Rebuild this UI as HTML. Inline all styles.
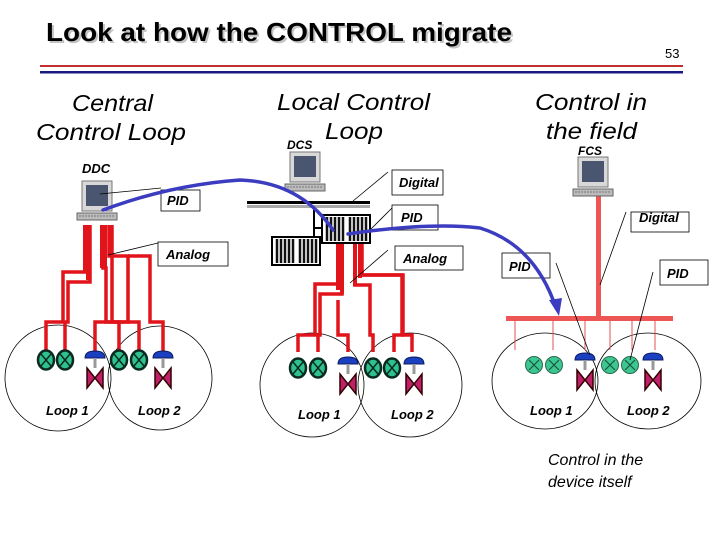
<!DOCTYPE html>
<html><head><meta charset="utf-8"><style>
body{margin:0;background:#fff;}
svg{display:block;}
text{font-family:"Liberation Sans",sans-serif;}
.lb{font-style:italic;font-weight:bold;font-size:13px;}
.hd{font-style:italic;font-size:23px;}
</style></head><body>
<svg width="720" height="540" viewBox="0 0 720 540" xmlns="http://www.w3.org/2000/svg">
<defs>
<g id="s"><ellipse cx="0" cy="0" rx="8" ry="9.5" fill="#2ec08e" stroke="#0a2a20" stroke-width="2.5"/><path d="M-5,-6L5,6M5,-6L-5,6" stroke="#0a2a20" stroke-width="1.5"/></g>
<g id="sf"><circle cx="0" cy="0" r="8.5" fill="#3cc690" stroke="#2a6a50" stroke-width="1"/><path d="M-5,-5L5,5M5,-5L-5,5" stroke="#1a4a3a" stroke-width="1"/></g>
<g id="v"><path d="M-10,-2 Q-10,-9 0,-9 Q10,-9 10,-2 Z" fill="#1a3fc0" stroke="#0a1a60" stroke-width="1"/><rect x="-1.5" y="-2" width="3" height="10" fill="#999"/><path d="M-8,8 L8,28 L8,8 L-8,28 Z" fill="#c0206a" stroke="#300" stroke-width="1.5"/></g>
<g id="pc"><rect x="0" y="0" width="30" height="30" fill="#d8d8d8" stroke="#777"/><rect x="4" y="4" width="22" height="21" fill="#4a5570"/><rect x="-5" y="32" width="40" height="7" fill="#bbb" stroke="#666"/><path d="M-3,35h36" stroke="#777" stroke-dasharray="2 1"/></g>
<g id="rack"><rect x="0" y="0" width="48" height="28" fill="#fff" stroke="#000" stroke-width="2"/><path d="M5,2v24M9,2v24M13,2v24M17,2v24M21,2v24M28,2v24M32,2v24M36,2v24M40,2v24M44,2v24" stroke="#111" stroke-width="2.5"/></g>
</defs>

<text x="48" y="43" font-size="26" font-weight="bold" fill="#888" opacity="0.5" textLength="466" lengthAdjust="spacingAndGlyphs">Look at how the CONTROL migrate</text>
<text x="46" y="41" font-size="26" font-weight="bold" fill="#000" textLength="466" lengthAdjust="spacingAndGlyphs">Look at how the CONTROL migrate</text>
<text x="665" y="58" font-size="13" fill="#000">53</text>
<rect x="40" y="65" width="643" height="2" fill="#c03030"/>
<rect x="40" y="71" width="643" height="2.5" fill="#1a1a80"/>

<text class="hd" x="72" y="111" textLength="81" lengthAdjust="spacingAndGlyphs">Central</text>
<text class="hd" x="36" y="140" textLength="150" lengthAdjust="spacingAndGlyphs">Control Loop</text>
<text class="hd" x="277" y="110" textLength="153" lengthAdjust="spacingAndGlyphs">Local Control</text>
<text class="hd" x="325" y="139" textLength="58" lengthAdjust="spacingAndGlyphs">Loop</text>
<text x="287" y="149" font-size="12" font-style="italic" font-weight="bold">DCS</text>
<text class="hd" x="535" y="110" textLength="112" lengthAdjust="spacingAndGlyphs">Control in</text>
<text class="hd" x="546" y="139" textLength="91" lengthAdjust="spacingAndGlyphs">the field</text>
<text x="578" y="155" font-size="12" font-style="italic" font-weight="bold">FCS</text>
<text x="82" y="173" font-size="13" font-style="italic" font-weight="bold">DDC</text>

<g fill="none" stroke="#000" stroke-width="0.8">
<circle cx="58" cy="378" r="53"/><circle cx="160" cy="378" r="52"/>
<circle cx="312" cy="385" r="52"/><circle cx="410" cy="385" r="52"/>
<ellipse cx="545" cy="381" rx="53" ry="48"/><ellipse cx="648" cy="381" rx="53" ry="48"/>
</g>

<g fill="none" stroke="#e0141a" stroke-width="3.5">
<path d="M86,225V272H63V322H46V352"/>
<path d="M90,225V282H68V322H65V352"/>
<path d="M103,225V268H106V322H119V352"/>
<path d="M109,225V256H112V322H139V352"/>
<path d="M112,225V256H128V322H95V352"/>
<path d="M128,256H150V322H163V352"/>
</g>
<g fill="none" stroke="#e0141a" stroke-width="4">
<path d="M85,225V273"/><path d="M88,225V280"/><path d="M102,225V268"/><path d="M105,225V268"/>
</g>
<g fill="none" stroke="#e0141a" stroke-width="3.5">
<path d="M338,243V284H315V335H298V352"/>
<path d="M342,243V294H320V335H318V352"/>
<path d="M355,243V285H370V335H373V352"/>
<path d="M362,243V275H402V335H394V352"/>
<path d="M362,275H403V335H412V352"/>
<path d="M338,300V335H348V352"/>
</g>
<g fill="none" stroke="#e0141a" stroke-width="4"><path d="M338,243V290"/><path d="M342,243V294"/><path d="M355,243V286"/><path d="M360,243V278"/></g>

<rect x="506" y="316" width="167" height="5" fill="#ee5555"/>
<rect x="596" y="190" width="5" height="128" fill="#ee5555"/>
<g stroke="#e05050" stroke-width="1"><path d="M515,320V350M553,320V350M585,320V350M610,320V350M632,320V350M655,320V350"/></g>

<use href="#s" x="46" y="360"/><use href="#s" x="65" y="360"/><use href="#v" x="95" y="360"/>
<use href="#s" x="119" y="360"/><use href="#s" x="139" y="360"/><use href="#v" x="163" y="360"/>
<use href="#s" x="298" y="368"/><use href="#s" x="318" y="368"/><use href="#v" x="348" y="366"/>
<use href="#s" x="373" y="368"/><use href="#s" x="392" y="368"/><use href="#v" x="414" y="366"/>
<use href="#sf" x="534" y="365"/><use href="#sf" x="554" y="365"/><use href="#v" x="585" y="362"/>
<use href="#sf" x="610" y="365"/><use href="#sf" x="630" y="365"/><use href="#v" x="653" y="362"/>

<use href="#pc" x="82" y="181"/>
<use href="#pc" x="290" y="152"/>
<use href="#pc" x="578" y="157"/>

<rect x="247" y="201" width="123" height="3" fill="#000"/>
<rect x="247" y="205" width="123" height="3" fill="#aaa"/>
<path d="M314,208V228H322M314,218V240" stroke="#000" stroke-width="2" fill="none"/>
<use href="#rack" x="322" y="215"/>
<use href="#rack" x="272" y="237"/>

<g fill="#fff" stroke="#000" stroke-width="0.8">
<rect x="161" y="190" width="39" height="21"/>
<rect x="158" y="242" width="70" height="24"/>
<rect x="392" y="170" width="51" height="25"/>
<rect x="392" y="205" width="46" height="25"/>
<rect x="395" y="246" width="68" height="24"/>
<rect x="631" y="212" width="58" height="20"/>
<rect x="502" y="253" width="48" height="25"/>
<rect x="660" y="260" width="48" height="25"/>
</g>
<g stroke="#000" stroke-width="0.8" fill="none">
<path d="M100,194L161,188"/>
<path d="M108,255L158,243"/>
<path d="M353,201L388,172"/>
<path d="M370,230L392,208"/>
<path d="M350,283L388,250"/>
<path d="M600,285L626,212"/>
<path d="M556,263L590,355"/>
<path d="M653,272L630,360"/>
</g>
<text class="lb" x="167" y="205">PID</text>
<text class="lb" x="166" y="259">Analog</text>
<text class="lb" x="399" y="187">Digital</text>
<text class="lb" x="401" y="222">PID</text>
<text class="lb" x="403" y="263">Analog</text>
<text class="lb" x="639" y="222">Digital</text>
<text class="lb" x="509" y="271">PID</text>
<text class="lb" x="667" y="278">PID</text>

<g fill="none" stroke="#3c3cc0" stroke-width="3.5" stroke-linecap="round">
<path d="M103,210 Q170,185 240,180 Q300,182 333,230"/>
<path d="M348,234 Q430,222 480,228 Q535,245 556,308"/>
</g>
<path d="M549,300 L559,316 L562,298 Z" fill="#3c3cc0"/>

<text class="lb" x="46" y="415">Loop 1</text><text class="lb" x="138" y="415">Loop 2</text>
<text class="lb" x="298" y="419">Loop 1</text><text class="lb" x="391" y="419">Loop 2</text>
<text class="lb" x="530" y="415">Loop 1</text><text class="lb" x="627" y="415">Loop 2</text>
<text x="548" y="465" font-size="16" font-style="italic">Control in the</text>
<text x="548" y="487" font-size="16" font-style="italic">device itself</text>
</svg>
</body></html>
